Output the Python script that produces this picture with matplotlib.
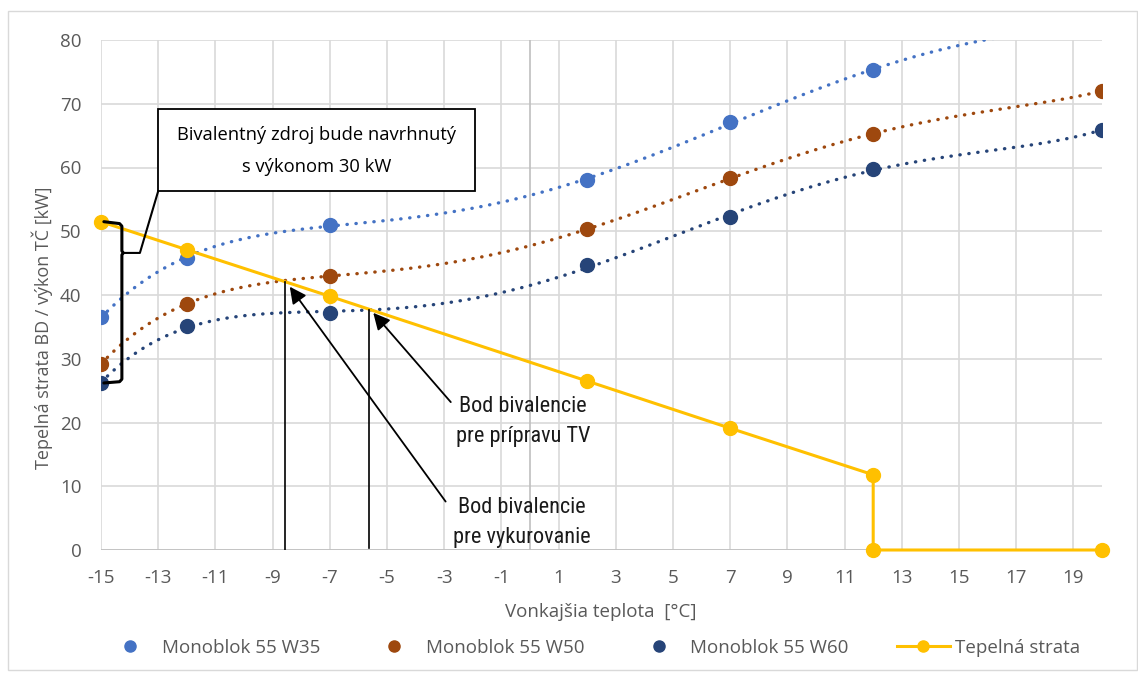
import numpy as np
import matplotlib
matplotlib.use("Agg")
import matplotlib.pyplot as plt
from matplotlib.patches import Rectangle

# ---------------- data ----------------
temps = [-15, -12, -7, 2, 7, 12, 20]
w35 = [36.5, 45.8, 51.0, 58.0, 67.1, 75.3, 82.5]   # last value lies above the 80 axis limit
w50 = [29.2, 38.6, 43.0, 50.3, 58.3, 65.3, 72.0]
w60 = [26.2, 35.1, 37.15, 44.65, 52.25, 59.7, 65.9]
loss_x = [-15, -12, -7, 2, 7, 12, 12, 20]
loss_y = [51.5, 47.1, 39.8, 26.5, 19.1, 11.8, 0, 0]

series_names = ["Monoblok 55 W35", "Monoblok 55 W50", "Monoblok 55 W60", "Tepelná strata"]
x_ticks = list(range(-15, 20, 2))
y_ticks = list(range(0, 81, 10))
trend_order = 5

c35, c50, c60, cts = "#4472C4", "#9E480E", "#264478", "#FFC000"
grid_c = "#D9D9D9"
txt_c = "#595959"

plt.rcParams['font.family'] = ['Open Sans', 'DejaVu Sans']
plt.rcParams['axes.unicode_minus'] = False

W, H = 1138, 681
fig = plt.figure(figsize=(W / 100, H / 100), dpi=100)
fig.patch.set_facecolor("white")
fig.add_artist(Rectangle((8 / W, 11 / H), 1 - 9 / W, 1 - 22 / H, transform=fig.transFigure,
                         fill=False, edgecolor=grid_c, linewidth=1.0))

ax = fig.add_axes([101 / W, (H - 550) / H, 1001 / W, 510 / H])
ax.set_xlim(-15, 20)
ax.set_ylim(0, 80)
for s in ax.spines.values():
    s.set_visible(False)
ax.set_xticks(x_ticks)
ax.set_yticks(y_ticks)
ax.tick_params(length=0, colors=txt_c, labelsize=13.5)
ax.tick_params(axis="x", pad=14)
ax.tick_params(axis="y", pad=14)
ax.grid(True, color=grid_c, linewidth=1.2)
ax.set_axisbelow(True)
ax.axhline(0, color="#BFBFBF", linewidth=1.2, zorder=1)
ax.axvline(0, color="#BFBFBF", linewidth=1.2, zorder=1)

# polynomial trendlines (order 5 least squares, as Excel trendlines)
xx = np.linspace(-15, 20, 400)
dot = dict(linestyle=(0, (0.1, 2.6)), linewidth=2.4, dash_capstyle="round", zorder=2)
for ys, c in [(w35, c35), (w50, c50), (w60, c60)]:
    p = np.polyfit(temps, ys, trend_order)
    ax.plot(xx, np.polyval(p, xx), color=c, **dot)

ms = 10
ax.plot(temps, w35, "o", color=c35, ms=ms, zorder=3, label=series_names[0])
ax.plot(temps, w50, "o", color=c50, ms=ms, zorder=3, label=series_names[1])
ax.plot(temps, w60, "o", color=c60, ms=ms, zorder=3, label=series_names[2])
ax.plot(loss_x, loss_y, "-o", color=cts, ms=ms, lw=2.2, zorder=4, label=series_names[3],
        clip_on=False)

# ---- annotations ----
k = dict(color="black", lw=2.2, zorder=5, clip_on=False, solid_capstyle="round",
         solid_joinstyle="round")
bx = -14.27
ax.plot([-14.9, bx - 0.08, bx, bx, bx + 0.05, bx, bx, bx - 0.08, -14.9],
        [51.5, 51.2, 50.8, 46.9, 46.6, 46.3, 26.8, 26.4, 26.2], **k)
ax.plot([bx + 0.05, -13.64, -13.0], [46.6, 46.6, 56.3], color="black", lw=1.5, zorder=5)
ax.add_patch(Rectangle((-13.0, 56.3), 11.08, 12.9, facecolor="white", edgecolor="black",
                       lw=1.3, zorder=6))
ax.text(-7.46, 62.6, "Bivalentný zdroj bude navrhnutý\ns výkonom 30 kW", ha="center",
        va="center", fontsize=13.2, color="black", linespacing=2.0, zorder=7)

ax.plot([-8.55, -8.55], [0, 42.0], color="black", lw=1.2, zorder=5)
ax.plot([-5.62, -5.62], [0.3, 37.6], color="black", lw=1.2, zorder=5)

arr = dict(arrowstyle="-|>,head_length=1.0,head_width=0.5", color="black", lw=1.3,
           shrinkA=0, shrinkB=0)
ax.annotate("", xy=(-8.4, 41.3), xytext=(-2.95, 7.6), arrowprops=arr, zorder=5)
ax.annotate("", xy=(-5.48, 37.2), xytext=(-2.77, 23.2), arrowprops=arr, zorder=5)

nar = ['Liberation Sans Narrow', 'Roboto Condensed', 'Noto Sans Condensed', 'Roboto']
ax.text(-0.25, 20.2, "Bod bivalencie\npre prípravu TV", ha="center", va="center",
        fontsize=16, family=nar, color="#1a1a1a", linespacing=1.55, zorder=7)
ax.text(-0.28, 4.3, "Bod bivalencie\npre vykurovanie", ha="center", va="center",
        fontsize=16, family=nar, color="#1a1a1a", linespacing=1.55, zorder=7)

# axis titles
fig.text(601 / W, 1 - 612 / H, "Vonkajšia teplota  [°C]", ha="center", va="center",
         fontsize=13.5, color=txt_c)
fig.text(42 / W, 1 - 328 / H, "Tepelná strata BD / výkon TČ [kW]", ha="center",
         va="center", rotation=90, fontsize=13, color=txt_c)

# legend
fs = 13.5
fpx = fs * 100 / 72
leg = fig.legend(loc="center left", bbox_to_anchor=(103.5 / W, 1 - 648 / H), ncol=4,
                 frameon=False, fontsize=fs, labelcolor=txt_c, borderpad=0,
                 columnspacing=48 / fpx, handlelength=53 / fpx, handletextpad=5 / fpx,
                 borderaxespad=0, markerscale=0.8)

fig.savefig("out.png", dpi=100)
